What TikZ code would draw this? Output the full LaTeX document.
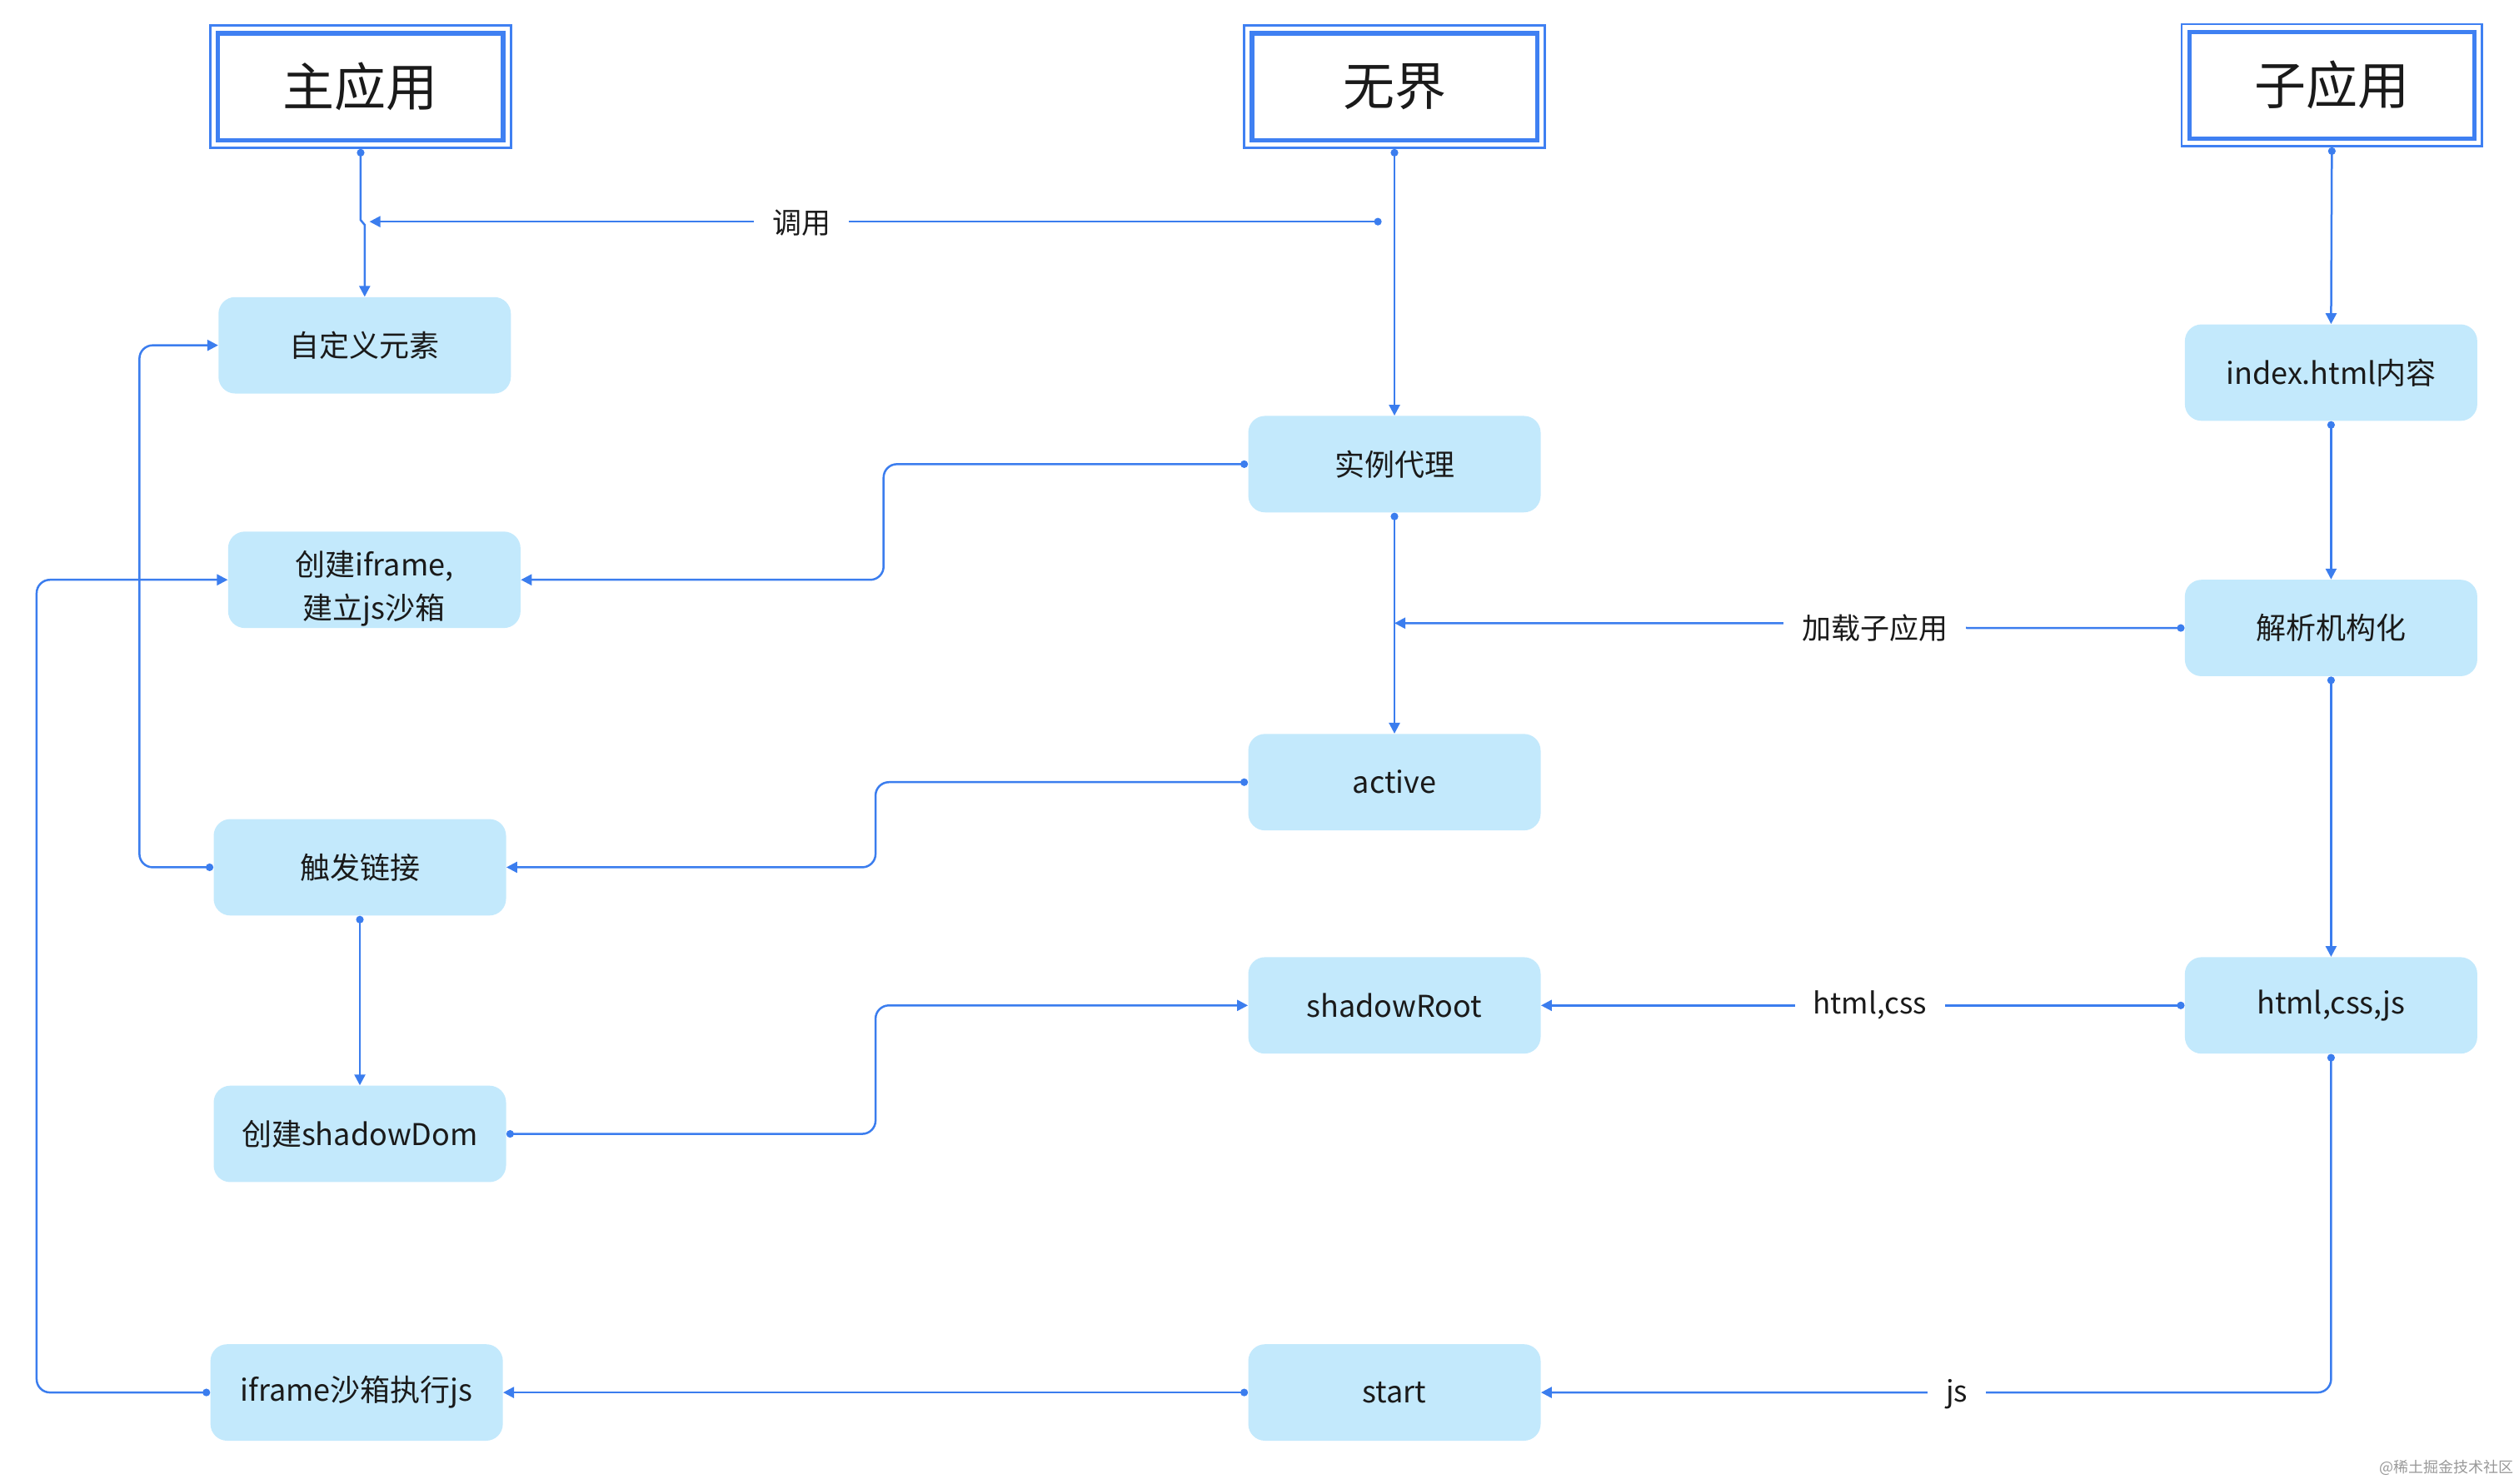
\documentclass[tikz,border=0pt]{standalone}
\usepackage{fontspec}
\setmainfont{Noto Sans CJK SC}
\usetikzlibrary{arrows.meta,calc}
\definecolor{lblue}{HTML}{C3E9FC}
\definecolor{cblue}{HTML}{3B7DEE}
\definecolor{hblue}{HTML}{3F80F2}
\definecolor{txt}{HTML}{1A1A1A}
\begin{document}
\begin{tikzpicture}[x=0.96429pt,y=-0.96429pt,
  box/.style={fill=lblue, rounded corners=10pt, minimum width=175.5pt, minimum height=57.9pt, inner sep=0pt, font=\fontsize{18}{26}\selectfont, text=txt, align=center},
  hdr/.style={draw=hblue, line width=1.4pt, minimum width=180.3pt, minimum height=73.3pt, inner sep=0pt, font=\fontsize{31}{36}\selectfont, text=txt},
  inner/.style={draw=hblue, line width=2.6pt},
  conn/.style={draw=cblue, line width=1.25pt, rounded corners=8pt, {Circle[length=4.5pt]}-{Triangle[length=6.5pt,width=6.5pt]}},
  lbl/.style={fill=white, inner xsep=11pt, inner ysep=2pt, font=\fontsize{17.5}{20}\selectfont, text=txt},
  wm/.style={font=\fontsize{9}{10}\selectfont, text=black!40, inner sep=0pt},
]
\useasboundingbox (0,0) rectangle (1568,923.5);

% headers
\node[hdr] (hm) at (224.5,54) {主应用};
\node[hdr] (hw) at (868,54) {无界};
\node[hdr] (hs) at (1451.5,53) {子应用};
\foreach \h in {hm,hw,hs}{
  \draw[inner] ($(\h.north west)+(5.5,5.5)$) rectangle ($(\h.south east)+(-5.5,-5.5)$);
}

% boxes
\node[box] (zdy) at (227,215) {自定义元素};
\node[box] (cjif) at (233,361) {\raisebox{-5.5pt}[\height][\depth]{\parbox{160pt}{\centering 创建iframe,\\建立js沙箱}}};
\node[box] (cfl) at (224,540) {触发链接};
\node[box] (csd) at (224,706) {创建shadowDom};
\node[box] (ifr) at (222,867) {iframe沙箱执行js};
\node[box] (slp) at (868,289) {实例代理};
\node[box] (act) at (868,487) {active};
\node[box] (sr) at (868,626) {shadowRoot};
\node[box] (st) at (868,867) {start};
\node[box] (idx) at (1451,232) {index.html内容};
\node[box] (jx) at (1451,391) {解析机构化};
\node[box] (hcj) at (1451,626) {html,css,js};

% connectors
\draw[conn, rounded corners=0pt] (hm.south) -- (hm.south |- 0,137) -- (zdy.north |- 0,140) -- (zdy.north);
\coordinate (c1s) at (860,138);
\coordinate (c1e) at (230,138);
\draw[conn] (c1s) -- (c1e);
\node[lbl] (l1) at (499,139) {调用};

\draw[conn] (hw.south) -- (slp.north);
\draw[conn] (hs.south) -- (idx.north);
\draw[conn] (idx.south) -- (jx.north);

\coordinate (c6e) at (868,388);
\draw[conn, rounded corners=0pt] (jx.west) -- (1226,391) -- (1108,388) -- (c6e);
\node[lbl] (l2) at (1167,391) {加载子应用};

\draw[conn] (slp.south) -- (act.north);
\draw[conn] (slp.west) -- (550,289) -- (550,361) -- (cjif.east);
\draw[conn] (act.west) -- (545,487) -- (545,540) -- (cfl.east);
\draw[conn] (cfl.west) -- ++(-46,0) |- (zdy.west);
\draw[conn] (cfl.south) -- (csd.north);
\draw[conn] (csd.east) -- (545,706) -- (545,626) -- (sr.west);

\draw[conn] (hcj.west) -- (sr.east);
\node[lbl] (l3) at (1164,626) {html,css};

\draw[conn] (jx.south) -- (hcj.north);
\draw[conn] (hcj.south) |- (st.east);
\node[lbl] (l4) at (1218,868) {js};

\draw[conn] (st.west) -- (ifr.east);
\draw[conn] (ifr.west) -- ++(-108,0) |- (cjif.west);

\node[wm, anchor=east] (wmk) at (1565,914) {@稀土掘金技术社区};
\end{tikzpicture}
\end{document}
